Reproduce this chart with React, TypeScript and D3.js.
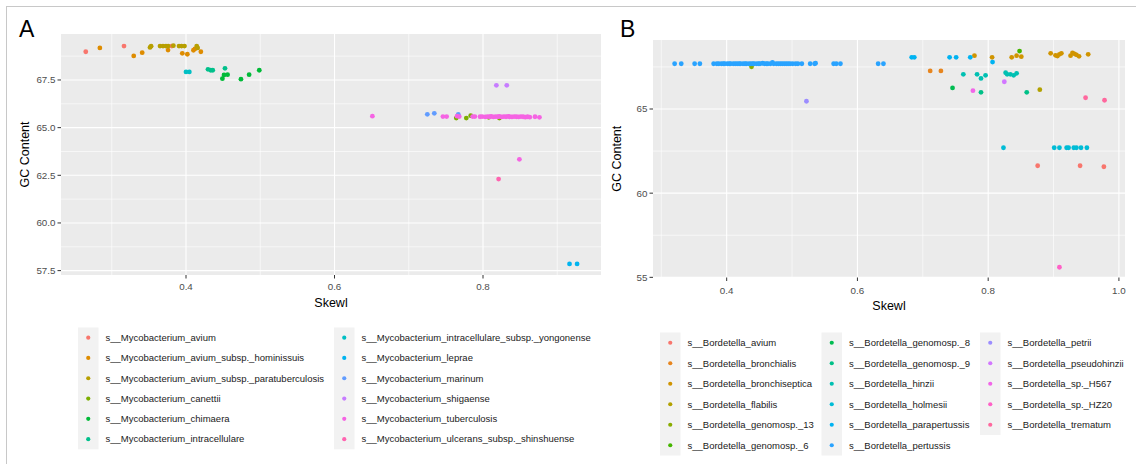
import React from 'react';
import * as d3 from 'd3';

type Pt = [number, number];

// ---- Panel A: Mycobacterium ----
const mycoNames = [
  's__Mycobacterium_avium',
  's__Mycobacterium_avium_subsp._hominissuis',
  's__Mycobacterium_avium_subsp._paratuberculosis',
  's__Mycobacterium_canettii',
  's__Mycobacterium_chimaera',
  's__Mycobacterium_intracellulare',
  's__Mycobacterium_intracellulare_subsp._yongonense',
  's__Mycobacterium_leprae',
  's__Mycobacterium_marinum',
  's__Mycobacterium_shigaense',
  's__Mycobacterium_tuberculosis',
  's__Mycobacterium_ulcerans_subsp._shinshuense',
];

const mAvium: Pt[] = [[0.265, 68.98], [0.3165, 69.28], [0.381, 69.28]];
const mHominissuis: Pt[] = [
  [0.284, 69.18], [0.3296, 68.76], [0.341, 68.93], [0.3758, 69.07], [0.395, 68.9],
  [0.4018, 68.85], [0.41, 69.06], [0.412, 69.13], [0.42, 68.98],
];
const mParatb: Pt[] = [
  [0.3515, 69.21], [0.353, 69.27], [0.365, 69.28], [0.369, 69.28], [0.373, 69.28],
  [0.376, 69.28], [0.383, 69.3], [0.3906, 69.28], [0.394, 69.28], [0.398, 69.28],
  [0.4144, 69.28], [0.4157, 69.18],
];
const mCanettii: Pt[] = [[0.764, 65.5], [0.7775, 65.5], [0.7834, 65.63], [0.8077, 65.54], [0.822, 65.5]];
const mChimaera: Pt[] = [
  [0.449, 67.57], [0.4512, 67.76], [0.456, 67.78], [0.474, 67.54], [0.485, 67.78], [0.4987, 68.01],
];
const mIntracell: Pt[] = [[0.4296, 68.06], [0.4333, 68.01], [0.436, 68.01], [0.4525, 68.11]];
const mYongonense: Pt[] = [[0.4, 67.92], [0.4045, 67.92]];
const mLeprae: Pt[] = [[0.9165, 57.85], [0.9267, 57.85]];
const mMarinum: Pt[] = [[0.725, 65.7], [0.7344, 65.75], [0.7667, 65.7]];
const mShigaense: Pt[] = [[0.818, 67.22], [0.832, 67.22]];
const mTuberculosis: Pt[] = [
  [0.651, 65.6], [0.746, 65.58], [0.751, 65.58], [0.765, 65.6], [0.768, 65.58],
  [0.786, 65.58], [0.789, 65.58], [0.796, 65.57], [0.799, 65.58], [0.803, 65.56],
  [0.806, 65.58], [0.809, 65.57], [0.811, 65.59], [0.814, 65.56], [0.817, 65.58],
  [0.82, 65.57], [0.822, 65.59], [0.825, 65.56], [0.828, 65.58], [0.831, 65.57],
  [0.834, 65.59], [0.836, 65.57], [0.839, 65.56], [0.842, 65.58], [0.845, 65.57],
  [0.848, 65.56], [0.851, 65.58], [0.854, 65.57], [0.857, 65.55], [0.86, 65.57],
  [0.863, 65.55], [0.87, 65.57], [0.876, 65.54], [0.849, 63.34],
];
const mUlcerans: Pt[] = [[0.821, 62.3]];

const mycoSeries = [
  mAvium, mHominissuis, mParatb, mCanettii, mChimaera, mIntracell,
  mYongonense, mLeprae, mMarinum, mShigaense, mTuberculosis, mUlcerans,
];

// ---- Panel B: Bordetella ----
const bordNames = [
  's__Bordetella_avium',
  's__Bordetella_bronchialis',
  's__Bordetella_bronchiseptica',
  's__Bordetella_flabilis',
  's__Bordetella_genomosp._13',
  's__Bordetella_genomosp._6',
  's__Bordetella_genomosp._8',
  's__Bordetella_genomosp._9',
  's__Bordetella_hinzii',
  's__Bordetella_holmesii',
  's__Bordetella_parapertussis',
  's__Bordetella_pertussis',
  's__Bordetella_petrii',
  's__Bordetella_pseudohinzii',
  's__Bordetella_sp._H567',
  's__Bordetella_sp._HZ20',
  's__Bordetella_trematum',
];

const bAvium: Pt[] = [[0.8757, 61.63], [0.9406, 61.63], [0.977, 61.57]];
const bBronchialis: Pt[] = [[0.7113, 67.26], [0.7277, 67.26]];
const bBronchiseptica: Pt[] = [
  [0.779, 68.17], [0.806, 68.07], [0.836, 68.07], [0.8435, 68.17], [0.8507, 68.11],
  [0.8956, 68.31], [0.903, 68.19], [0.906, 68.15], [0.909, 68.25], [0.912, 68.31],
  [0.926, 68.17], [0.929, 68.34], [0.932, 68.28], [0.935, 68.22], [0.939, 68.13],
  [0.953, 68.25],
];
const bFlabilis: Pt[] = [[0.879, 66.15]];
const bGeno13: Pt[] = [[0.438, 67.51]];
const bGeno6: Pt[] = [[0.848, 68.44]];
const bGeno8: Pt[] = [[0.7455, 66.25]];
const bGeno9: Pt[] = [[0.789, 65.99], [0.859, 65.99]];
const bHinzii: Pt[] = [
  [0.762, 67.06], [0.783, 67.06], [0.789, 66.82], [0.796, 67.0],
  [0.8267, 67.16], [0.829, 67.06], [0.834, 67.06], [0.839, 67.0], [0.8435, 67.12],
];
const bHolmesii: Pt[] = [
  [0.8234, 62.7], [0.901, 62.7], [0.909, 62.7], [0.92, 62.7], [0.923, 62.7],
  [0.931, 62.7], [0.935, 62.7], [0.942, 62.7], [0.951, 62.7],
];
const bParapertussis: Pt[] = [
  [0.683, 68.07], [0.687, 68.07], [0.741, 68.07], [0.751, 68.07], [0.7726, 68.07], [0.8067, 67.79],
];
const bPertussis: Pt[] = [
  [0.3204, 67.69], [0.3305, 67.69], [0.351, 67.69], [0.359, 67.69], [0.38, 67.69],
  [0.385, 67.69], [0.388, 67.69], [0.392, 67.69], [0.395, 67.69], [0.397, 67.69],
  [0.401, 67.69], [0.404, 67.69], [0.406, 67.69], [0.41, 67.69], [0.413, 67.69],
  [0.416, 67.69], [0.419, 67.69], [0.421, 67.69], [0.425, 67.69], [0.428, 67.69],
  [0.43, 67.69], [0.434, 67.69], [0.437, 67.69], [0.44, 67.69], [0.442, 67.69],
  [0.446, 67.69], [0.449, 67.69], [0.451, 67.69], [0.455, 67.72], [0.458, 67.69],
  [0.461, 67.69], [0.463, 67.69], [0.467, 67.69], [0.47, 67.77], [0.472, 67.69],
  [0.476, 67.69], [0.479, 67.69], [0.482, 67.69], [0.485, 67.69], [0.488, 67.69],
  [0.491, 67.69], [0.494, 67.69], [0.497, 67.69], [0.501, 67.69], [0.5055, 67.69],
  [0.509, 67.69], [0.515, 67.69], [0.5277, 67.69], [0.5345, 67.69], [0.536, 67.72],
  [0.5636, 67.69], [0.5677, 67.69], [0.574, 67.69], [0.6317, 67.69], [0.6398, 67.69],
];
const bPetrii: Pt[] = [[0.522, 65.46]];
const bPseudohinzii: Pt[] = [[0.8247, 66.62]];
const bH567: Pt[] = [[0.7767, 66.09]];
const bHZ20: Pt[] = [[0.909, 55.6]];
const bTrematum: Pt[] = [[0.949, 65.67], [0.978, 65.52]];

const bordSeries = [
  bAvium, bBronchialis, bBronchiseptica, bFlabilis, bGeno13, bGeno6, bGeno8, bGeno9,
  bHinzii, bHolmesii, bParapertussis, bPertussis, bPetrii, bPseudohinzii, bH567, bHZ20, bTrematum,
];

const aXTicks = [0.4, 0.6, 0.8];
const aXMinor = [0.3, 0.5, 0.7, 0.9];
const aYTicks = [57.5, 60, 62.5, 65, 67.5];
const aYMinor = [58.75, 61.25, 63.75, 66.25, 68.75];
const bXTicks = [0.4, 0.6, 0.8, 1.0];
const bXMinor = [0.3, 0.5, 0.7, 0.9];
const bYTicks = [55, 60, 65];
const bYMinor = [57.5, 62.5, 67.5];

// ggplot-style hue palette (polar LUV, like grDevices::hcl)
function hclHex(h: number, c: number, l: number) {
  const WX = 95.047, WY = 100, WZ = 108.883;
  const t = WX + WY + WZ;
  const x = WX / t, y = WY / t;
  const uN = (2 * x) / (6 * y - x + 1.5);
  const vN = (4.5 * y) / (6 * y - x + 1.5);
  const hr = (h * Math.PI) / 180;
  const U = c * Math.cos(hr), V = c * Math.sin(hr);
  const Y = WY * (l > 7.999592 ? Math.pow((l + 16) / 116, 3) : l / 903.3);
  const u = U / (13 * l) + uN;
  const v = V / (13 * l) + vN;
  const X = (9 * Y * u) / (4 * v);
  const Z = -X / 3 - 5 * Y + (3 * Y) / v;
  const g = (q: number) => {
    const r = q > 0.00304 ? 1.055 * Math.pow(q, 1 / 2.4) - 0.055 : 12.92 * q;
    return Math.round(255 * Math.min(1, Math.max(0, r)));
  };
  const R = g((3.240479 * X - 1.53715 * Y - 0.498535 * Z) / WY);
  const G = g((-0.969256 * X + 1.875992 * Y + 0.041556 * Z) / WY);
  const B = g((0.055648 * X - 0.204043 * Y + 1.057311 * Z) / WY);
  return d3.rgb(R, G, B).formatHex();
}
const huePal = (n: number) => d3.range(n).map((i) => hclHex(15 + (360 * i) / n, 100, 65));

const FONT = '"Liberation Sans", Arial, sans-serif';

interface PanelProps {
  tag: string;
  tagX: number;
  box: { x0: number; x1: number; y0: number; y1: number };
  xDomain: [number, number];
  yDomain: [number, number];
  xTicks: number[];
  xMinor: number[];
  yTicks: number[];
  yMinor: number[];
  yFmt: string;
  names: string[];
  series: Pt[][];
  legendCols: number[]; // x of key box left
  legendTop: number;
  rowH: number;
  xTitleY: number;
  xLabY: number;
  yTitleX: number;
}

function Panel(p: PanelProps) {
  const { box } = p;
  const x = d3.scaleLinear().domain(p.xDomain).range([box.x0, box.x1]);
  const y = d3.scaleLinear().domain(p.yDomain).range([box.y1, box.y0]);
  const colors = huePal(p.names.length);
  const fmtX = d3.format('.1f');
  const fmtY = d3.format(p.yFmt);
  const nrow = 6;
  const cols = p.legendCols.map((cx, ci) => ({
    cx,
    items: p.names.slice(ci * nrow, ci * nrow + nrow).map((n, k) => ({ n, i: ci * nrow + k })),
  }));
  const midY = (box.y0 + box.y1) / 2;
  const midX = (box.x0 + box.x1) / 2;
  return (
    <g>
      <text x={p.tagX} y={box.y0 - (box.y0 > 36 ? 3 : -3)} fontSize={23} fontFamily={FONT} fill="#000">
        {p.tag}
      </text>
      <rect x={box.x0} y={box.y0} width={box.x1 - box.x0} height={box.y1 - box.y0} fill="#EBEBEB" />
      {p.yMinor.map((v) => (
        <line key={'ym' + v} x1={box.x0} x2={box.x1} y1={y(v)} y2={y(v)} stroke="#fff" strokeWidth={0.6} />
      ))}
      {p.xMinor.map((v) => (
        <line key={'xm' + v} y1={box.y0} y2={box.y1} x1={x(v)} x2={x(v)} stroke="#fff" strokeWidth={0.6} />
      ))}
      {p.yTicks.map((v) => (
        <line key={'yg' + v} x1={box.x0} x2={box.x1} y1={y(v)} y2={y(v)} stroke="#fff" strokeWidth={1.1} />
      ))}
      {p.xTicks.map((v) => (
        <line key={'xg' + v} y1={box.y0} y2={box.y1} x1={x(v)} x2={x(v)} stroke="#fff" strokeWidth={1.1} />
      ))}
      {p.series.map((pts, si) =>
        pts.map((d, j) => (
          <circle key={si + '-' + j} cx={x(d[0])} cy={y(d[1])} r={2.4} fill={colors[si]} />
        ))
      )}
      {p.yTicks.map((v) => (
        <g key={'yt' + v}>
          <line x1={box.x0 - 3.5} x2={box.x0} y1={y(v)} y2={y(v)} stroke="#333" strokeWidth={1} />
          <text
            x={box.x0 - 5.5}
            y={y(v)}
            dy="0.35em"
            textAnchor="end"
            fontSize={9.8}
            fontFamily={FONT}
            fill="#4D4D4D"
          >
            {fmtY(v)}
          </text>
        </g>
      ))}
      {p.xTicks.map((v) => (
        <g key={'xt' + v}>
          <line y1={box.y1} y2={box.y1 + 3.5} x1={x(v)} x2={x(v)} stroke="#333" strokeWidth={1} />
          <text x={x(v)} y={p.xLabY} textAnchor="middle" fontSize={9.8} fontFamily={FONT} fill="#4D4D4D">
            {fmtX(v)}
          </text>
        </g>
      ))}
      <text x={midX} y={p.xTitleY} textAnchor="middle" fontSize={12.5} fontFamily={FONT} fill="#000">
        Skewl
      </text>
      <text
        transform={`translate(${p.yTitleX},${midY}) rotate(-90)`}
        textAnchor="middle"
        fontSize={12.5}
        fontFamily={FONT}
        fill="#000"
      >
        GC Content
      </text>
      {cols.map((c, ci) => (
        <g key={'lc' + ci}>
          <rect x={c.cx} y={p.legendTop} width={20.5} height={c.items.length * p.rowH} fill="#F2F2F2" />
          {c.items.map((it, k) => {
            const cy = p.legendTop + p.rowH * (k + 0.5);
            return (
              <g key={it.n}>
                <circle cx={c.cx + 10.25} cy={cy} r={2.1} fill={colors[it.i]} />
                <text
                  x={c.cx + 27.5}
                  y={cy}
                  dy="0.35em"
                  fontSize={9.5}
                  fontFamily={FONT}
                  fill="#1A1A1A"
                >
                  {it.n}
                </text>
              </g>
            );
          })}
        </g>
      ))}
    </g>
  );
}

export default function App() {
  return (
    <svg
      width={1136}
      height={464}
      style={{ position: 'absolute', left: 0, top: 0, background: '#fff' }}
    >
      <rect x={0} y={0} width={1136} height={464} fill="#fff" />
      <line x1={6} x2={1136} y1={6.5} y2={6.5} stroke="#C8C8C8" strokeWidth={1} />
      <line x1={6.5} x2={6.5} y1={6} y2={464} stroke="#C8C8C8" strokeWidth={1} />
      <Panel
        tag="A"
        tagX={19}
        box={{ x0: 61, x1: 601, y0: 34, y1: 275 }}
        xDomain={[0.23165, 0.9589]}
        yDomain={[57.27, 69.912]}
        xTicks={aXTicks}
        xMinor={aXMinor}
        yTicks={aYTicks}
        yMinor={aYMinor}
        yFmt=".1f"
        names={mycoNames}
        series={mycoSeries}
        legendCols={[78, 334]}
        legendTop={327.5}
        rowH={20.3}
        xTitleY={306.5}
        xLabY={290}
        yTitleX={29}
      />
      <Panel
        tag="B"
        tagX={620}
        box={{ x0: 653, x1: 1125, y0: 40, y1: 277.5 }}
        xDomain={[0.2873, 1.0093]}
        yDomain={[54.99, 69.1]}
        xTicks={bXTicks}
        xMinor={bXMinor}
        yTicks={bYTicks}
        yMinor={bYMinor}
        yFmt="d"
        names={bordNames}
        series={bordSeries}
        legendCols={[660, 821.5, 980]}
        legendTop={332.5}
        rowH={20.5}
        xTitleY={310}
        xLabY={294}
        yTitleX={621}
      />
    </svg>
  );
}
